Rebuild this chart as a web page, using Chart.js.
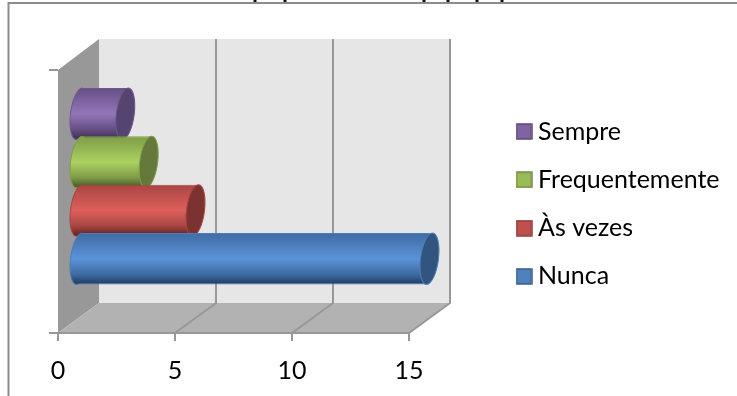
<!DOCTYPE html>
<html>
<head>
<meta charset="utf-8">
<style>html,body{margin:0;padding:0;background:#fff}canvas{display:block}</style>
<script src="https://cdn.jsdelivr.net/npm/chart.js@4/dist/chart.umd.min.js"></script>
</head>
<body>
<canvas id="c" width="737" height="396"></canvas>
<script>
// Survey answers, top cylinder first
const categories = [''];
const seriesNames = ['Sempre', 'Frequentemente', 'Às vezes', 'Nunca'];
const sempre = [2];
const frequentemente = [3];
const asVezes = [5];
const nunca = [15];
const seriesValues = [sempre, frequentemente, asVezes, nunca];
const axisTicks = [0, 5, 10, 15];

// Shading per series: legend fill, outline, cylinder highlights, end cap
const palette = [
  {fill:'#8064a2', line:'#5c4776', top:'#664f85', mid:'#9376b9', low:'#3d2e54', cap:'#564470', edge:'#6f5690'},
  {fill:'#9bbb59', line:'#71893f', top:'#7f9c47', mid:'#aad161', low:'#435622', cap:'#64793a', edge:'#7f9f45'},
  {fill:'#c0504d', line:'#8c3836', top:'#a84643', mid:'#de5f5c', low:'#5c2220', cap:'#7c3230', edge:'#a8433f'},
  {fill:'#4f81bd', line:'#385d8a', top:'#3f6ca3', mid:'#5b93d8', low:'#1f3a5f', cap:'#31557f', edge:'#4a7ebb'}
];

const depthX = 41, depthY = 30.5;      // wall offset of the 3D box
const capRx = 9;                       // end-cap radius along the bar
const lean = -0.115;                   // horizontal lean of the cylinder
const fontFamily = 'Lato, Carlito, sans-serif';

function swatch(p) {
  const s = document.createElement('canvas');
  s.width = s.height = 17;
  const g = s.getContext('2d');
  g.fillStyle = p.fill;
  g.strokeStyle = p.line;
  g.lineWidth = 1.5;
  g.fillRect(1, 1, 15, 15);
  g.strokeRect(1, 1, 15, 15);
  return s;
}
const swatches = palette.map(swatch);

// One cylinder: rounded start, the library's bar as the body, then the flat end
function drawCylinder(chart, index) {
  const {ctx} = chart;
  const meta = chart.getDatasetMeta(index);
  const bar = meta.data[0];
  const p = palette[index];
  const {x, y, base, height} = bar.getProps(['x', 'y', 'base', 'height'], true);
  const top = y - height / 2, bottom = y + height / 2;

  ctx.save();
  ctx.translate(depthX / 2, -depthY / 2);
  ctx.transform(1, 0, lean, 1, -lean * y, 0);

  const shade = ctx.createLinearGradient(0, top, 0, bottom);
  shade.addColorStop(0, p.top);
  shade.addColorStop(0.5, p.mid);
  shade.addColorStop(0.8, p.top);
  shade.addColorStop(1, p.low);
  bar.options = Object.assign({}, bar.options, {backgroundColor: shade, borderColor: p.edge});

  // Full ellipse under the body so no seam shows where the two meet
  ctx.fillStyle = shade;
  ctx.beginPath();
  ctx.ellipse(base, y, capRx, height / 2, 0, 0, Math.PI * 2);
  ctx.fill();
  ctx.strokeStyle = p.edge;
  ctx.lineWidth = 1;
  ctx.beginPath();
  ctx.ellipse(base, y, capRx, height / 2, 0, Math.PI / 2, Math.PI * 1.5);
  ctx.stroke();

  meta.controller.draw();

  ctx.fillStyle = p.cap;
  ctx.strokeStyle = p.edge;
  ctx.lineWidth = 1;
  ctx.beginPath();
  ctx.ellipse(x, y, capRx, height / 2, 0, 0, Math.PI * 2);
  ctx.fill();
  ctx.stroke();
  ctx.restore();
}

const box3d = {
  id: 'box3d',
  beforeLayout(chart) {
    const legend = chart.legend;
    if (legend && !legend.$fixed) {
      const fit = legend.fit;
      legend.fit = function () { fit.call(this); this.width = 328; };
      legend.$fixed = true;
    }
  },
  afterLayout(chart) {
    const legend = chart.legend;
    const pad = legend.options.labels.padding;
    legend.left = 522.5 - pad;
    legend.top = 119 - pad;
    legend.right = 737;
    legend.bottom = 900;
  },
  beforeDraw(chart) {
    const {ctx, chartArea: a, scales: {x}} = chart;
    const bx = a.left + depthX, tx = a.top - 31, by = a.bottom - 30;
    const rx = x.getPixelForValue(x.max);

    ctx.save();
    // back wall
    ctx.fillStyle = '#e6e6e6';
    ctx.fillRect(bx, tx, rx + depthX - bx, by - tx);
    // side wall
    ctx.fillStyle = '#989898';
    ctx.beginPath();
    ctx.moveTo(a.left, a.top); ctx.lineTo(bx, tx); ctx.lineTo(bx, by); ctx.lineTo(a.left, a.bottom);
    ctx.closePath(); ctx.fill();
    // floor
    ctx.fillStyle = '#b2b2b2';
    ctx.beginPath();
    ctx.moveTo(a.left, a.bottom); ctx.lineTo(bx, by); ctx.lineTo(rx + depthX, by); ctx.lineTo(rx, a.bottom);
    ctx.closePath(); ctx.fill();
    // grid lines run up the back wall and across the floor
    ctx.strokeStyle = '#989898';
    ctx.lineWidth = 2;
    axisTicks.slice(1).forEach(v => {
      const px = x.getPixelForValue(v);
      ctx.beginPath();
      ctx.moveTo(px, a.bottom); ctx.lineTo(px + depthX, by); ctx.lineTo(px + depthX, tx);
      ctx.stroke();
    });
    // frame fragment and clipped heading strokes along the top edge
    ctx.strokeStyle = '#8c8c8c';
    ctx.lineWidth = 2;
    ctx.beginPath();
    ctx.moveTo(8.5, 396); ctx.lineTo(8.5, 3); ctx.lineTo(737, 3);
    ctx.stroke();
    ctx.fillStyle = '#111';
    [255, 285, 424, 448, 477, 502].forEach(px => ctx.fillRect(px - 1.5, 0, 3, 2));
    ctx.restore();
  },
  // The lower cylinders overlap the upper ones, so paint from the top down
  beforeDatasetsDraw(chart) {
    seriesNames.forEach((name, i) => drawCylinder(chart, i));
    return false;
  }
};

new Chart(document.getElementById('c'), {
  type: 'bar',
  plugins: [box3d],
  data: {
    labels: categories,
    datasets: seriesNames.map((name, i) => ({
      label: name,
      data: seriesValues[i],
      backgroundColor: palette[i].fill,
      borderColor: palette[i].edge,
      borderWidth: {top: 1, bottom: 1, left: 0, right: 0},
      categoryPercentage: 0.7346,
      barPercentage: 1.066
    }))
  },
  options: {
    indexAxis: 'y',
    responsive: false,
    animation: false,
    devicePixelRatio: 1,
    layout: {padding: {left: 49, top: 70, right: 0, bottom: 0}},
    plugins: {
      title: {display: false},
      tooltip: {enabled: false},
      legend: {
        position: 'right',
        align: 'start',
        labels: {
          usePointStyle: true,
          pointStyleWidth: 3,
          padding: 23.3,
          color: '#000',
          font: {family: fontFamily, size: 25},
          generateLabels(chart) {
            return Chart.defaults.plugins.legend.labels.generateLabels(chart).map(item => {
              item.pointStyle = swatches[item.datasetIndex];
              return item;
            });
          }
        }
      }
    },
    scales: {
      x: {
        type: 'linear',
        min: 0,
        max: 15,
        afterFit(s) { s.height = 63; },
        afterBuildTicks(s) { s.ticks = axisTicks.map(value => ({value})); },
        grid: {drawOnChartArea: false, color: '#989898', lineWidth: 2, tickLength: 8},
        border: {color: '#989898', width: 2},
        ticks: {color: '#000', padding: 15, maxRotation: 0, font: {family: fontFamily, size: 25}}
      },
      y: {
        type: 'category',
        afterFit(s) { s.width = 9; },
        grid: {drawOnChartArea: false, offset: true, color: '#989898', lineWidth: 2, tickLength: 9},
        border: {color: '#989898', width: 1},
        ticks: {display: false}
      }
    }
  }
});
</script>
</body>
</html>
